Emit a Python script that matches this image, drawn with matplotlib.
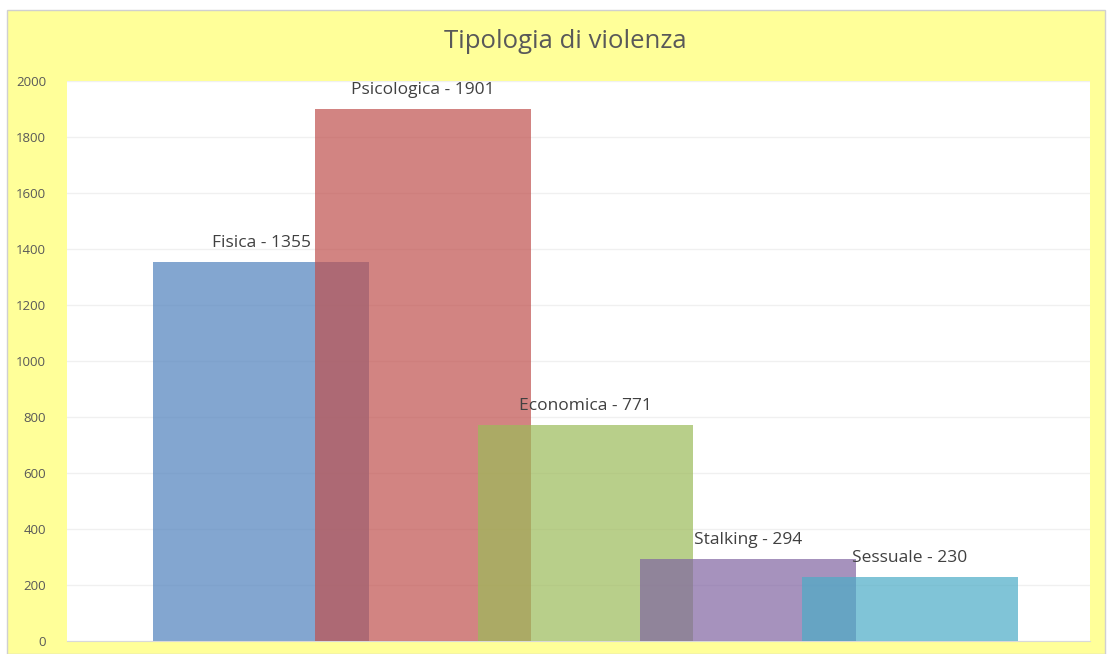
import matplotlib
matplotlib.use("Agg")
import matplotlib.pyplot as plt
from matplotlib.patches import Rectangle

categories = ["Fisica", "Psicologica", "Economica", "Stalking", "Sessuale"]
values = [1355, 1901, 771, 294, 230]
colors = ["#4F81BD", "#C0504D", "#9BBB59", "#8064A2", "#4BACC6"]
yticks = [0, 200, 400, 600, 800, 1000, 1200, 1400, 1600, 1800, 2000]
title = "Tipologia di violenza"

plt.rcParams['font.family'] = ['Open Sans', 'DejaVu Sans']

W, H = 1111, 654
fig = plt.figure(figsize=(W / 100, H / 100), dpi=100)
fig.patch.set_facecolor("white")

# yellow chart area with thin gray border
fig.patches.append(Rectangle((7 / W, 0), (1105 - 7) / W, (H - 10) / H,
                             transform=fig.transFigure, facecolor="#FFFF99",
                             edgecolor="#D0D0D0", linewidth=1.0, zorder=0))

ax = fig.add_axes([67 / W, (H - 641) / H, (1090 - 67) / W, (641 - 81) / H])
ax.set_zorder(2)
ax.set_facecolor("white")

xs = list(range(len(categories)))
for i, (c, v, col) in enumerate(zip(categories, values, colors)):
    ax.bar(xs[i], v, width=1.33, color=col, alpha=0.7, zorder=2 + i, linewidth=0)
    ax.text(xs[i], v + 68, f"{c} - {v}", ha="center", va="center",
            fontsize=12.5, color="#404040", zorder=10)

ax.set_xlim(-1.196, 5.11)
ax.set_ylim(0, 2000)
ax.set_yticks(yticks)
ax.set_yticklabels([str(t) for t in yticks], fontsize=9.5, color="#595959")
ax.set_xticks([])
ax.tick_params(axis="y", length=0, pad=15)
ax.grid(axis="y", color="#F0F0F0", linewidth=1, zorder=0)
ax.set_axisbelow(True)
for s in ["top", "right", "left"]:
    ax.spines[s].set_visible(False)
ax.spines["bottom"].set_color("#D9D9D9")

fig.text(565 / W, 1 - 42 / H, title, ha="center", va="center",
         fontsize=18.5, color="#595959", zorder=3)

fig.savefig("out.png", dpi=100, facecolor=fig.get_facecolor())
